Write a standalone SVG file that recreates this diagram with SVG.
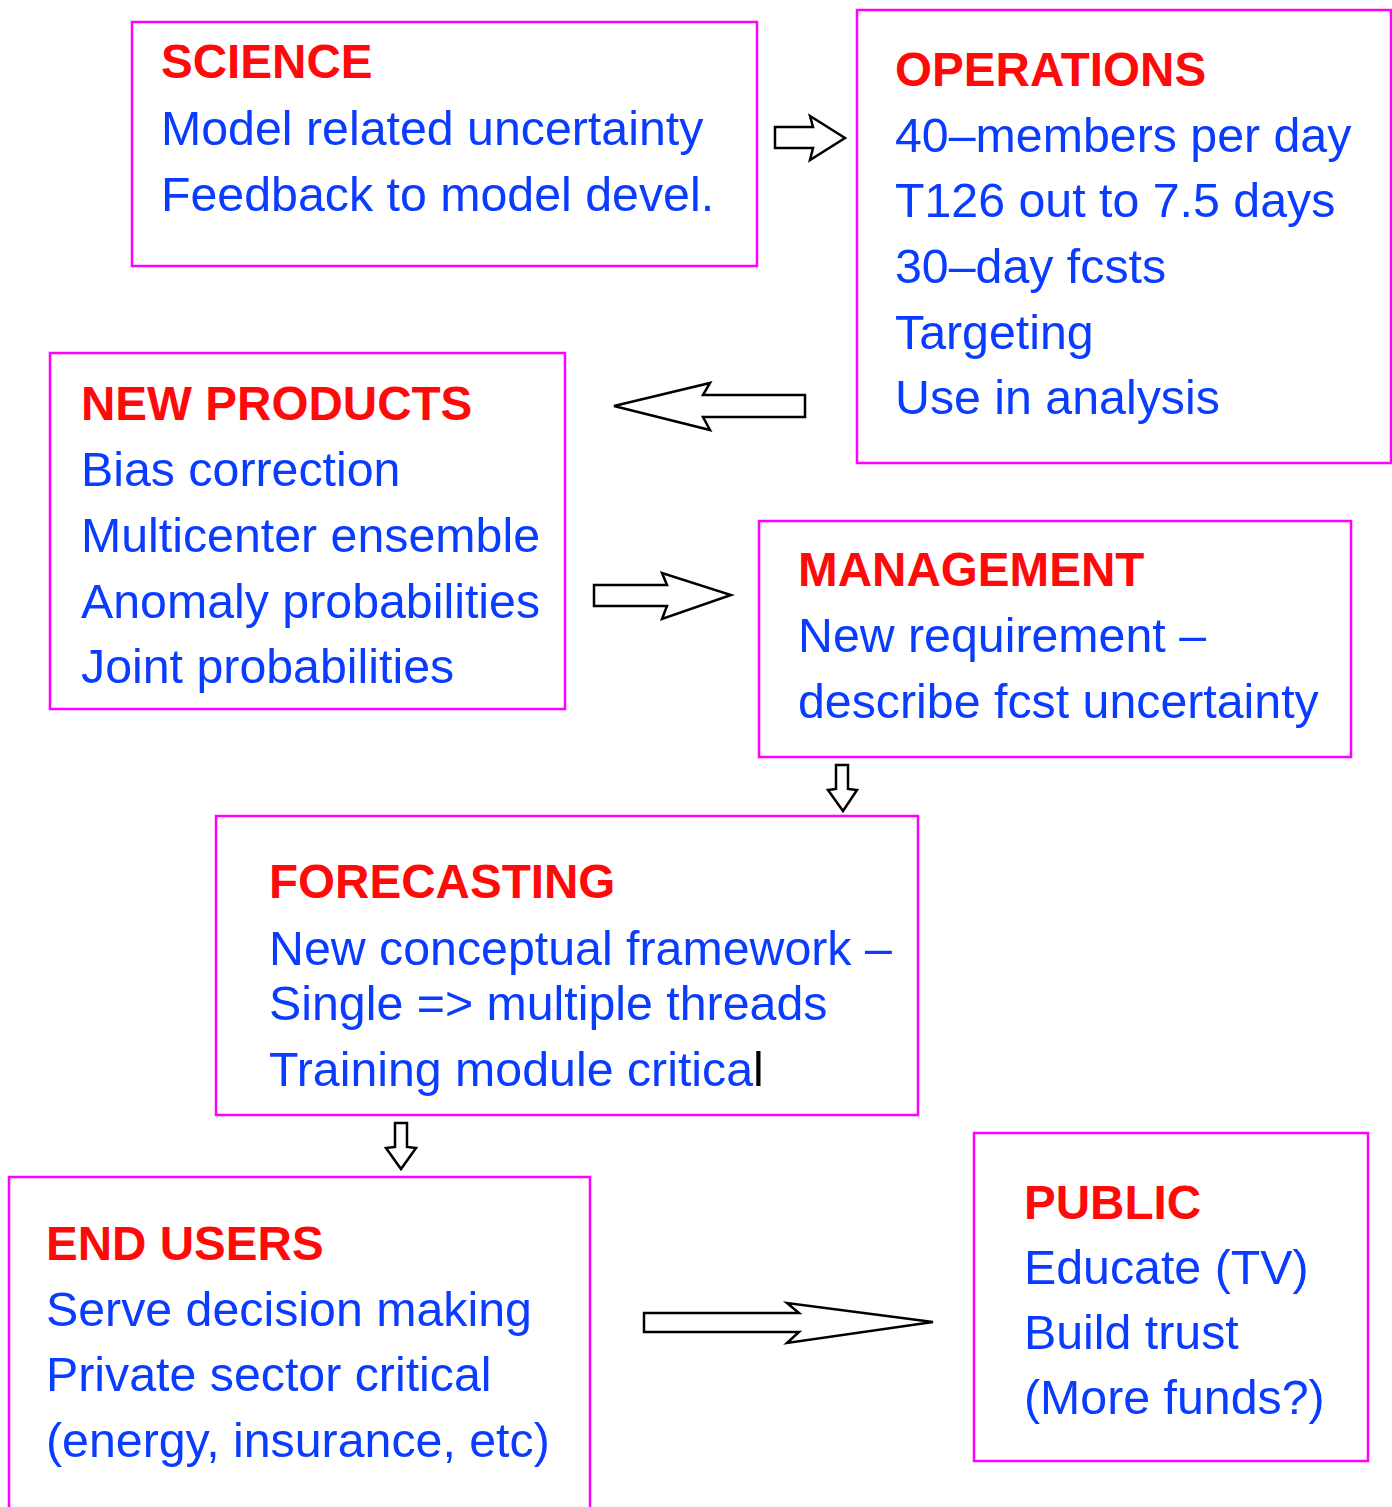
<svg xmlns="http://www.w3.org/2000/svg" width="1392" height="1507" viewBox="0 0 1392 1507">
  <style>
    .box { fill: none; stroke: #ff00ff; stroke-width: 2.5; }
    .arrow { fill: #ffffff; stroke: #000000; stroke-width: 2.5; stroke-linejoin: miter; }
    .head { font-family: "Liberation Sans", Arial, sans-serif; font-weight: bold; font-size: 47.6px; fill: #ff0a0a; }
    .body { font-family: "Liberation Sans", Arial, sans-serif; font-size: 48.3px; fill: #0a3cff; }
  </style>
  <rect width="1392" height="1507" fill="#ffffff"/>

  <g id="science">
    <rect class="box" x="132" y="22" width="625" height="244"/>
    <text class="head" x="161" y="78">SCIENCE</text>
    <text class="body" x="161" y="145">Model related uncertainty</text>
    <text class="body" x="161" y="211">Feedback to model devel.</text>
  </g>

  <g id="operations">
    <rect class="box" x="857" y="10" width="534" height="453"/>
    <text class="head" x="895" y="86">OPERATIONS</text>
    <text class="body" x="895" y="152">40–members per day</text>
    <text class="body" x="895" y="217">T126 out to 7.5 days</text>
    <text class="body" x="895" y="283">30–day fcsts</text>
    <text class="body" x="895" y="349">Targeting</text>
    <text class="body" x="895" y="414">Use in analysis</text>
  </g>

  <g id="new-products">
    <rect class="box" x="50" y="353" width="515" height="356"/>
    <text class="head" x="81" y="420">NEW PRODUCTS</text>
    <text class="body" x="81" y="486">Bias correction</text>
    <text class="body" x="81" y="552">Multicenter ensemble</text>
    <text class="body" x="81" y="618">Anomaly probabilities</text>
    <text class="body" x="81" y="683">Joint probabilities</text>
  </g>

  <g id="management">
    <rect class="box" x="759" y="521" width="592" height="236"/>
    <text class="head" x="798" y="586">MANAGEMENT</text>
    <text class="body" x="798" y="652">New requirement –</text>
    <text class="body" x="798" y="718">describe fcst uncertainty</text>
  </g>

  <g id="forecasting">
    <rect class="box" x="216" y="816" width="702" height="299"/>
    <text class="head" x="269" y="898">FORECASTING</text>
    <text class="body" x="269" y="965">New conceptual framework –</text>
    <text class="body" x="269" y="1020">Single =&gt; multiple threads</text>
    <text class="body" x="269" y="1086">Training module critica<tspan fill="#000000">l</tspan></text>
  </g>

  <g id="end-users">
    <rect class="box" x="9" y="1177" width="581" height="340"/>
    <text class="head" x="46" y="1260">END USERS</text>
    <text class="body" x="46" y="1326">Serve decision making</text>
    <text class="body" x="46" y="1391">Private sector critical</text>
    <text class="body" x="46" y="1457">(energy, insurance, etc)</text>
  </g>

  <g id="public">
    <rect class="box" x="974" y="1133" width="394" height="328"/>
    <text class="head" x="1024" y="1219">PUBLIC</text>
    <text class="body" x="1024" y="1284">Educate (TV)</text>
    <text class="body" x="1024" y="1349">Build trust</text>
    <text class="body" x="1024" y="1414">(More funds?)</text>
  </g>

  <g id="connectors">
    <!-- science -> operations -->
    <polygon class="arrow" points="775,127 813,127 810,116 845,138 810,160 813,148 775,148"/>
    <!-- operations -> new products -->
    <polygon class="arrow" points="805,395 703,395 710,383 614,406 710,430 703,417 805,417"/>
    <!-- new products -> management -->
    <polygon class="arrow" points="594,585 667,585 662,573 731,595 662,619 667,606 594,606"/>
    <!-- management -> forecasting -->
    <polygon class="arrow" points="836,765 848,765 848,789 857,790 843,811 828,790 836,789"/>
    <!-- forecasting -> end users -->
    <polygon class="arrow" points="395,1123 407,1123 407,1147 416,1148 401,1169 386,1148 395,1147"/>
    <!-- end users -> public -->
    <polygon class="arrow" points="644,1313 799,1313 787,1303 933,1322 787,1343 799,1332 644,1332"/>
  </g>
</svg>
